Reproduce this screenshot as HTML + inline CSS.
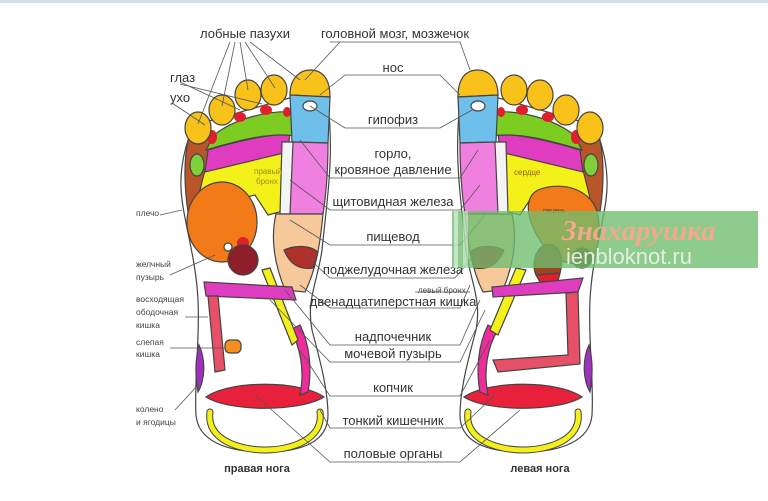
<!DOCTYPE html>
<html><head><meta charset="utf-8"><style>
html,body{margin:0;padding:0;background:#fff;}
svg{display:block;}
text{font-family:"Liberation Sans",sans-serif;fill:#333;}
.c{font-size:13px;text-anchor:middle;}
.s{font-size:8.5px;fill:#444;}
.l{fill:none;stroke:#555;stroke-width:0.8;}
.o{stroke:#444;stroke-width:1.2;}
</style></head><body>
<svg width="768" height="501" viewBox="0 0 768 501" xmlns="http://www.w3.org/2000/svg">
<rect x="0" y="0" width="768" height="3" fill="#cfe3e8"/>
<defs>
<g id="foot">
  <path class="o" fill="#fff" d="M300,95 C318,92 330,100 330,130 C332,170 326,210 322,250 C318,280 306,300 312,330 C320,360 328,390 328,415 C328,440 305,452 265,452 C225,452 198,440 196,415 C194,380 200,340 198,300 C196,260 186,230 182,200 C178,170 186,140 195,125 Z"/>
  <path class="o" fill="#b8562a" d="M188,140 L212,135 L214,200 L188,212 C184,185 184,160 188,140Z"/>
  <ellipse cx="197" cy="165" rx="7" ry="11" fill="#7fcf3a" class="o"/>
  <path class="o" fill="#f4f01a" d="M205,170 L285,150 L287,210 L268,215 L255,195 L195,210 Z"/>
  <path class="o" fill="#e03cc0" d="M208,150 C240,140 270,135 290,133 L288,152 L205,172 Z"/>
  <path class="o" fill="#7ccc22" d="M214,135 C235,118 270,110 295,112 L296,136 C270,132 240,140 206,150 Z"/>
  <ellipse cx="212" cy="137" rx="5" ry="7" fill="#e01e2c"/>
  <ellipse cx="240" cy="117" rx="6" ry="5" fill="#e01e2c"/>
  <ellipse cx="266" cy="110" rx="6" ry="5" fill="#e01e2c"/>
  <ellipse cx="287" cy="112" rx="4" ry="5" fill="#e01e2c"/>
  <ellipse cx="198" cy="128" rx="13" ry="16" fill="#f8c21a" class="o"/>
  <ellipse cx="222" cy="110" rx="13" ry="15" fill="#f8c21a" class="o"/>
  <ellipse cx="248" cy="95" rx="13" ry="15" fill="#f8c21a" class="o"/>
  <ellipse cx="274" cy="90" rx="13" ry="15" fill="#f8c21a" class="o"/>
  <path class="o" fill="#f8c21a" d="M290,95 C290,78 300,70 310,70 C322,70 330,78 330,97 Z"/>
  <path class="o" fill="#6ec0ea" d="M290,95 L330,97 L328,143 L292,142 Z"/>
  <ellipse cx="310" cy="106" rx="7" ry="5" fill="#fff" class="o"/>
  <path class="o" fill="#f080e0" d="M293,142 L328,143 C328,175 326,195 323,214 L284,214 Z"/>
  <path class="o" fill="#f4f4f4" d="M282,142 L293,142 L290,214 L280,214 Z"/>
  <path class="o" fill="#f6c89a" d="M276,214 L323,214 C320,245 316,270 305,292 L285,290 C275,265 270,240 276,214Z"/>
  <path class="o" fill="#b0302a" d="M284,250 C295,245 310,245 318,252 L313,268 C300,270 290,265 284,250Z"/>
  <path class="o" fill="#e8203c" d="M206,397 C230,380 300,380 324,397 C300,412 230,412 206,397Z" />
  <path fill="none" stroke="#444" stroke-width="7" stroke-linecap="round" d="M210,412 C206,440 240,450 265,450 C290,450 324,440 320,412"/>
  <path fill="none" stroke="#f4f01a" stroke-width="5" stroke-linecap="round" d="M210,412 C206,440 240,450 265,450 C290,450 324,440 320,412"/>
  <path class="o" fill="#ee2c9c" d="M290,330 C300,345 305,370 300,395 L308,392 C312,370 310,345 300,325Z"/>
  <path class="o" fill="#a030c0" d="M199,345 C206,360 205,380 198,392 C195,375 195,360 199,345Z"/>
</g>
</defs>

<use href="#foot"/>
<path class="o" fill="#f4f01a" d="M262,270 L270,268 L298,340 L292,345 Z"/>
<ellipse cx="222" cy="222" rx="35" ry="40" fill="#f27a18" class="o"/>
<circle cx="243" cy="243" r="6" fill="#e01e2c"/>
<ellipse cx="243" cy="260" rx="15" ry="15" fill="#8e1e2a" class="o"/>
<circle cx="228" cy="247" r="4" fill="#fff" class="o"/>
<path class="o" fill="#e03cc0" d="M204,282 L292,287 L296,300 L206,296 Z"/>
<path class="o" fill="#e85068" d="M208,296 L218,296 L225,370 L215,372 Z"/>
<rect x="225" y="340" width="16" height="13" rx="5" fill="#f5901e" class="o"/>

<g transform="translate(788,0) scale(-1,1)">
  <use href="#foot"/>
  <path class="o" fill="#f4f01a" d="M262,270 L272,268 L298,330 L290,335 Z"/>
  <path class="o" fill="#f27a18" d="M190,215 C195,190 225,180 250,190 C265,198 262,220 245,245 C232,265 205,270 195,255 C188,245 188,230 190,215Z"/>
  <circle cx="206" cy="258" r="10" fill="#6a3010" class="o"/>
  <path class="o" fill="#9a4420" d="M235,245 C250,240 258,262 252,275 L228,273 C224,258 228,248 235,245Z"/>
  <path class="o" fill="#e01e2c" d="M228,273 L252,275 L248,282 L230,281Z"/>
  <path class="o" fill="#e03cc0" d="M205,278 L296,287 L295,297 L210,292 Z"/>
  <path class="o" fill="#e85068" d="M210,292 L222,293 L220,355 L295,360 L290,372 L208,364 Z"/>
</g>
<text class="s" x="254" y="174" style="fill:#a09020;font-size:8px">правый</text>
<text class="s" x="256" y="184" style="fill:#a09020;font-size:8px">бронх</text>
<text class="s" x="514" y="175" style="fill:#906020;font-size:8px">сердце</text>
<text class="s" x="543" y="213" style="fill:#704020;font-size:7px">печень</text>

<g class="l">
<path d="M230,42 L198,124 M235,42 L222,106 M240,42 L248,90 M245,42 L275,88 M250,42 L300,80"/>
<path d="M180,82 L240,110 M180,84 L262,104 M172,103 L205,125"/>
<path d="M330,42 L460,42 L470,70 M340,42 L305,80"/>
<path d="M320,95 L345,75 L440,75 L460,95"/>
<path d="M310,106 L345,128 L440,128 L472,110"/>
<path d="M300,140 L330,178 L460,178 L478,150"/>
<path d="M290,180 L330,210 L460,210 L480,185"/>
<path d="M290,220 L330,245 L460,245 L485,215"/>
<path d="M305,255 L330,278 L455,278 L480,248"/>
<path d="M300,285 L330,308 L460,308 L470,285 M415,292 L470,292"/>
<path d="M285,290 L330,345 L460,345 L480,300"/>
<path d="M270,300 L330,362 L460,362 L485,310"/>
<path d="M300,350 L330,396 L460,396 L490,340"/>
<path d="M320,410 L330,428 L460,428 L495,395"/>
<path d="M255,395 L330,462 L460,462 L520,410"/>
<path d="M160,215 L182,210 M170,275 L215,255 M185,317 L208,317 M170,348 L225,348 M175,410 L198,385"/>
</g>

<text class="c" x="245" y="38">лобные пазухи</text>
<text class="c" x="395" y="38">головной мозг, мозжечок</text>
<text class="c" x="393" y="72">нос</text>
<text class="c" x="393" y="124">гипофиз</text>
<text class="c" x="393" y="158">горло,</text>
<text class="c" x="393" y="174">кровяное давление</text>
<text class="c" x="393" y="206">щитовидная железа</text>
<text class="c" x="393" y="241">пищевод</text>
<text class="c" x="393" y="274">поджелудочная железа</text>
<text class="s" x="418" y="293" style="font-size:8px">левый бронх</text>
<text class="c" x="393" y="306">двенадцатиперстная кишка</text>
<text class="c" x="393" y="341">надпочечник</text>
<text class="c" x="393" y="358">мочевой пузырь</text>
<text class="c" x="393" y="392">копчик</text>
<text class="c" x="393" y="425">тонкий кишечник</text>
<text class="c" x="393" y="458">половые органы</text>
<text x="170" y="82" style="font-size:13px">глаз</text>
<text x="170" y="102" style="font-size:13px">ухо</text>
<text class="s" x="136" y="216">плечо</text>
<text class="s" x="136" y="267">желчный</text>
<text class="s" x="136" y="280">пузырь</text>
<text class="s" x="136" y="302">восходящая</text>
<text class="s" x="136" y="315">ободочная</text>
<text class="s" x="136" y="328">кишка</text>
<text class="s" x="136" y="345">слепая</text>
<text class="s" x="136" y="357">кишка</text>
<text class="s" x="136" y="412">колено</text>
<text class="s" x="136" y="425">и ягодицы</text>
<text x="257" y="472" style="font-size:11px;font-weight:bold;text-anchor:middle">правая нога</text>
<text x="540" y="472" style="font-size:11px;font-weight:bold;text-anchor:middle">левая нога</text>

<rect x="452" y="211" width="306" height="57" fill="rgba(110,190,110,0.78)"/>
<rect x="454" y="211" width="4" height="57" fill="rgba(255,255,255,0.5)"/>
<rect x="463" y="211" width="5" height="57" fill="rgba(255,255,255,0.4)"/>
<text x="562" y="240" style="font-size:29px;font-weight:bold;font-style:italic;fill:#f4a88c;font-family:'Liberation Serif',serif">Знахарушка</text>
<text x="566" y="264" style="font-size:22px;fill:#e6ece0">ienbloknot.ru</text>
</svg>
</body></html>
